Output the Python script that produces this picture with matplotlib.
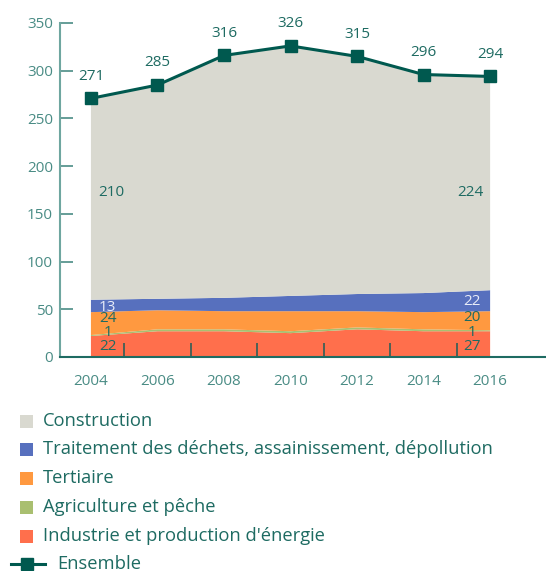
import matplotlib.pyplot as plt
from matplotlib.lines import Line2D
from matplotlib.patches import Rectangle

plt.rcParams['font.family'] = ['Open Sans', 'DejaVu Sans']

years = [2004, 2006, 2008, 2010, 2012, 2014, 2016]
industrie = [22, 27, 27, 25, 29, 27, 27]
agriculture = [1, 2, 2, 2, 2, 2, 1]
tertiaire = [24, 20, 19, 21, 17, 18, 20]
dechets = [13, 12, 14, 16, 18, 20, 22]
construction = [210, 224, 254, 262, 249, 229, 224]
ensemble = [271, 285, 316, 326, 315, 296, 294]

labels = ["Construction",
          "Traitement des déchets, assainissement, dépollution",
          "Tertiaire",
          "Agriculture et pêche",
          "Industrie et production d'énergie"]
colors = ["#D9D9D0", "#5770BE", "#FF9940", "#A9BF70", "#FF6F4C"]
line_color = "#00594F"
text_color = "#1E6B62"
tick_color = "#4A8C85"

fig = plt.figure(figsize=(5.46, 5.71), dpi=100)
ax = fig.add_axes([60 / 546, 1 - 357 / 571, 486 / 546, 334 / 571])

ax.stackplot(years, industrie, agriculture, tertiaire, dechets, construction,
             colors=colors[::-1], linewidth=0)
ax.plot(years, ensemble, color=line_color, linewidth=2.2, marker="s",
        markersize=8.5, zorder=5)

for x, v in zip(years, ensemble):
    ax.annotate(str(v), (x, v), xytext=(0, 16), textcoords="offset points",
                ha="center", va="center", fontsize=11, color=text_color)

# values at both ends
ax.text(2004.6, 172, str(construction[0]), ha="center", va="center",
        fontsize=11, color=text_color)
ax.text(2015.4, 172, str(construction[-1]), ha="center", va="center",
        fontsize=11, color=text_color)
left_vals = [(51.5, dechets[0], "#E8ECF8"), (40, tertiaire[0], text_color),
             (25.5, agriculture[0], text_color), (11, industrie[0], text_color)]
right_vals = [(58, dechets[-1], "#E8ECF8"), (41, tertiaire[-1], text_color),
              (26, agriculture[-1], text_color), (11, industrie[-1], text_color)]
for y, v, c in left_vals:
    ax.text(2004.5, y, str(v), ha="center", va="center", fontsize=11, color=c)
for y, v, c in right_vals:
    ax.text(2015.45, y, str(v), ha="center", va="center", fontsize=11, color=c)

ax.set_xlim(2003.07, 2017.68)
ax.set_ylim(0, 350)
ax.set_xticks(years)
ax.set_xticks(range(2005, 2016, 2), minor=True)
ax.set_yticks(range(0, 351, 50))
ax.tick_params(axis="y", direction="in", length=9, width=1.2, color=tick_color,
               labelcolor=tick_color, labelsize=11, pad=5)
ax.tick_params(axis="x", which="major", length=0, labelcolor=tick_color,
               labelsize=11, pad=12)
ax.tick_params(axis="x", which="minor", direction="in", length=10, width=1.2,
               color="#2F5F58")
for s in ["top", "right"]:
    ax.spines[s].set_visible(False)
ax.spines["left"].set_color("#6FA6A0")
ax.spines["left"].set_linewidth(1.5)
ax.spines["bottom"].set_color("#1E6B62")
ax.spines["bottom"].set_linewidth(1.5)
ax.set_facecolor("none")

# legend drawn by hand
row_y = [421, 449, 478, 507, 536]
for y, lab, c in zip(row_y, labels, colors):
    fig.patches.append(Rectangle((20 / 546, 1 - (y + 6.5) / 571), 13 / 546,
                                 13 / 571, transform=fig.transFigure,
                                 facecolor=c, edgecolor="none"))
    fig.text(43 / 546, 1 - y / 571, lab, ha="left", va="center",
             fontsize=13.2, color=text_color)

ey = 1 - 564 / 571
fig.add_artist(Line2D([11 / 546, 45 / 546], [ey, ey], color=line_color,
                      linewidth=2.2, transform=fig.transFigure))
fig.add_artist(Line2D([27 / 546], [ey], color=line_color, marker="s",
                      markersize=8.5, linestyle="none",
                      transform=fig.transFigure))
fig.text(57 / 546, ey, "Ensemble", ha="left", va="center",
         fontsize=13.2, color=text_color)

fig.savefig("out.png", dpi=100)
